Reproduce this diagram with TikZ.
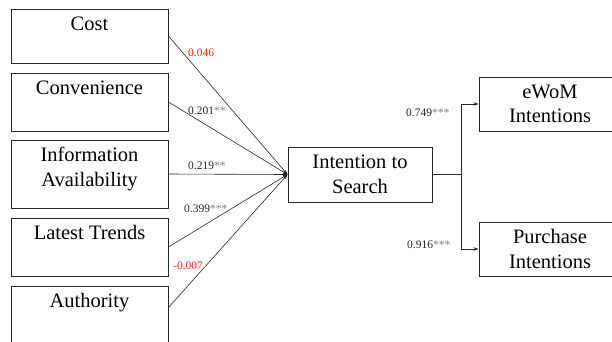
\documentclass[tikz,border=0pt]{standalone}
\usepackage{fontspec}
\setmainfont{Liberation Serif}
\usetikzlibrary{arrows.meta,calc}
\definecolor{linegray}{HTML}{262626}
\definecolor{stargray}{HTML}{7A7A7A}
\definecolor{numred}{HTML}{FF1A1A}
\begin{document}
\begin{tikzpicture}[x=1pt,y=-1pt,
  box/.style={draw=linegray,line width=0.9pt,rectangle,inner sep=0pt},
  lbox/.style={box,minimum width=157pt},
  cbox/.style={box,align=center,font=\fontsize{20.5}{24.5}\selectfont},
  boxtxt/.style={anchor=north,inner sep=0pt,align=center,font=\fontsize{20.5}{25}\selectfont},
  coef/.style={anchor=west,inner sep=0pt,font=\fontsize{11.5}{13}\selectfont,text=black!85},
  redcoef/.style={coef,text=numred},
  conn/.style={draw=linegray,line width=0.6pt,-{Stealth[length=5pt,width=3.5pt]}}
]
\useasboundingbox (0,0) rectangle (612,341);
\clip (0,0) rectangle (612,341);
\newcommand{\stars}[1]{\textcolor{stargray}{#1}}

% left boxes
\node[lbox,minimum height=54pt] (cost) at (89.5,36) {};
\node[lbox,minimum height=58pt] (conv) at (89.5,102) {};
\node[lbox,minimum height=68pt] (info) at (89.5,174) {};
\node[lbox,minimum height=58pt] (trend) at (89.5,247) {};
\node[lbox,minimum height=60pt] (auth) at (89.5,316) {};

\node[boxtxt] (costt) at ($(cost.north)+(0,8)$) {Cost};
\node[boxtxt] (convt) at ($(conv.north)+(0,8)$) {Convenience};
\node[boxtxt] (infot) at ($(info.north)+(0,7.5)$) {Information\\Availability};
\node[boxtxt] (trendt) at ($(trend.north)+(0,8)$) {Latest Trends};
\node[boxtxt] (autht) at ($(auth.north)+(0,8)$) {Authority};

% middle and right boxes
\node[cbox,minimum width=144pt,minimum height=55pt] (search) at (360,174.5) {Intention to\\Search};
\node[cbox,minimum width=142pt,minimum height=54pt] (ewom) at (550,104) {eWoM\\Intentions};
\node[cbox,minimum width=142pt,minimum height=54pt] (purch) at (550,249) {Purchase\\Intentions};

% converging paths
\coordinate (authout) at ($(auth.north east)+(0,22)$);
\draw[conn] (cost.east) -- (search.west);
\draw[conn] (conv.east) -- (search.west);
\draw[conn] (info.east) -- (search.west);
\draw[conn] (trend.east) -- (search.west);
\draw[conn] (authout) -- (search.west);

% outgoing paths
\draw[conn] (search.east) -- ++(29,0) |- (ewom.west);
\draw[conn] (search.east) -- ++(29,0) |- (purch.west);

% coefficients
\node[redcoef] (c1) at (188,52.5) {0.046};
\node[coef] (c2) at (188,111) {0.201\stars{**}};
\node[coef] (c3) at (188,166) {0.219\stars{**}};
\node[coef] (c4) at (184,209) {0.399\stars{***}};
\node[redcoef] (c5) at (173,266) {-0.007};
\node[coef] (c6) at (406,113) {0.749\stars{***}};
\node[coef] (c7) at (407,244.5) {0.916\stars{***}};
\end{tikzpicture}
\end{document}
